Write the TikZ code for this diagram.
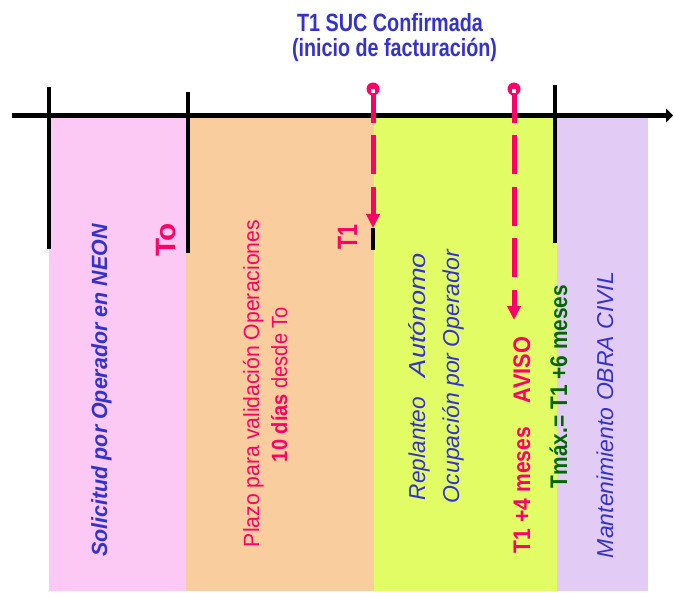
\documentclass[tikz,border=0pt]{standalone}
\usepackage{fontspec}
\setmainfont{Liberation Sans}
\usepackage{graphicx}
\usetikzlibrary{arrows.meta}
\definecolor{cpink}{HTML}{FCC8F4}
\definecolor{corange}{HTML}{F9CD9E}
\definecolor{cyellow}{HTML}{E2FC66}
\definecolor{cpurple}{HTML}{E2CCF6}
\definecolor{cred}{HTML}{FF0066}
\definecolor{cblue}{HTML}{3333CC}
\definecolor{cgreen}{HTML}{006600}
\newcommand{\fitw}[3]{\resizebox{#1pt}{\height}{\fontsize{#2}{#2}\selectfont #3}}
\begin{document}
\begin{tikzpicture}[x=1pt,y=-1pt,
  vlab/.style={rotate=90,anchor=base,inner sep=0pt,outer sep=0pt},
  hlab/.style={anchor=base,inner sep=0pt,outer sep=0pt},
  tickline/.style={line width=3.2pt,black},
  axisline/.style={line width=5pt,black,-{Triangle[length=7pt,width=14pt]}},
  marker/.style={cred,line width=5pt,dash pattern=on 39pt off 12.5pt,-{Triangle[length=14pt,width=13pt]}},
]
\useasboundingbox (0,0) rectangle (674,593);
% bands
\fill[cpink]   (49,116) rectangle (186,591);
\fill[corange] (186,116) rectangle (374,591);
\fill[cyellow] (374,116) rectangle (557,591);
\fill[cpurple] (557,116) rectangle (648,591);
% axis
\coordinate (axL) at (12,115.5);
\coordinate (axR) at (673,115.5);
\draw[axisline] (axL) -- (axR);
% ticks
\coordinate (k1a) at (49,87);   \coordinate (k1b) at (49,249);
\coordinate (k2a) at (188,92);  \coordinate (k2b) at (188,253);
\coordinate (k3a) at (373,228); \coordinate (k3b) at (373,250);
\coordinate (k4a) at (555,85);  \coordinate (k4b) at (555,243);
\draw[tickline] (k1a) -- (k1b);
\draw[tickline] (k2a) -- (k2b);
\draw[tickline] (k3a) -- (k3b);
\draw[tickline] (k4a) -- (k4b);
% red markers
\coordinate (c1) at (373,89);
\coordinate (s1) at (373,84);
\coordinate (t1) at (373,228);
\coordinate (c2) at (514,89);
\coordinate (s2) at (514,84);
\coordinate (t2) at (514,320);
\draw[marker] (s1) -- (t1);
\draw[marker] (s2) -- (t2);
\fill[cred] (c1) circle (6.5);
\fill[cred] (c2) circle (6.5);
\fill[white] ([xshift=-1.8pt,yshift=-0.5pt]c1) rectangle ([xshift=1.8pt,yshift=-4.1pt]c1);
\fill[white] ([xshift=-1.8pt,yshift=-0.5pt]c2) rectangle ([xshift=1.8pt,yshift=-4.1pt]c2);
% title
\node[hlab,text=cblue] (title1) at (390,32) {\fitw{186}{25}{\bfseries T1 SUC Confirmada}};
\node[hlab,text=cblue] (title2) at (394.5,57) {\fitw{205}{25}{\bfseries (inicio de facturación)}};
% rotated labels
\node[vlab,text=cblue] (solicitud) at (107,390.5) {\fitw{332}{22}{\bfseries\itshape Solicitud por Operador en NEON}};
\node[vlab,text=cred] (tolab) at (175,240) {\fitw{34}{28}{\bfseries To}};
\node[vlab,text=cred] (plazo1) at (259,383.5) {\fitw{327}{22}{Plazo para validación Operaciones}};
\node[vlab,text=cred] (plazo2) at (287,384.5) {\fitw{155}{22}{\textbf{10 días} desde To}};
\node[vlab,text=cred] (tonelab) at (357,237.5) {\fitw{25}{28}{\bfseries T1}};
\node[vlab,text=cblue] (replanteo) at (425,448.5) {\fitw{103}{23}{\itshape Replanteo}};
\node[vlab,text=cblue] (autonomo) at (425,315) {\fitw{124}{23}{\itshape Autónomo}};
\node[vlab,text=cblue] (ocupacion) at (459,376.5) {\fitw{253}{23}{\itshape Ocupación por Operador}};
\node[vlab,text=cred] (tcuatro) at (530,490) {\fitw{126}{24}{\bfseries T1 +4 meses}};
\node[vlab,text=cred] (aviso) at (530,370) {\fitw{66}{24}{\bfseries AVISO}};
\node[vlab,text=cgreen] (tmax) at (567,386.5) {\fitw{203}{24}{\bfseries Tmáx.= T1 +6 meses}};
\node[vlab,text=cblue] (mant) at (613,415) {\fitw{286}{23}{\itshape Mantenimiento OBRA CIVIL}};
\end{tikzpicture}
\end{document}
